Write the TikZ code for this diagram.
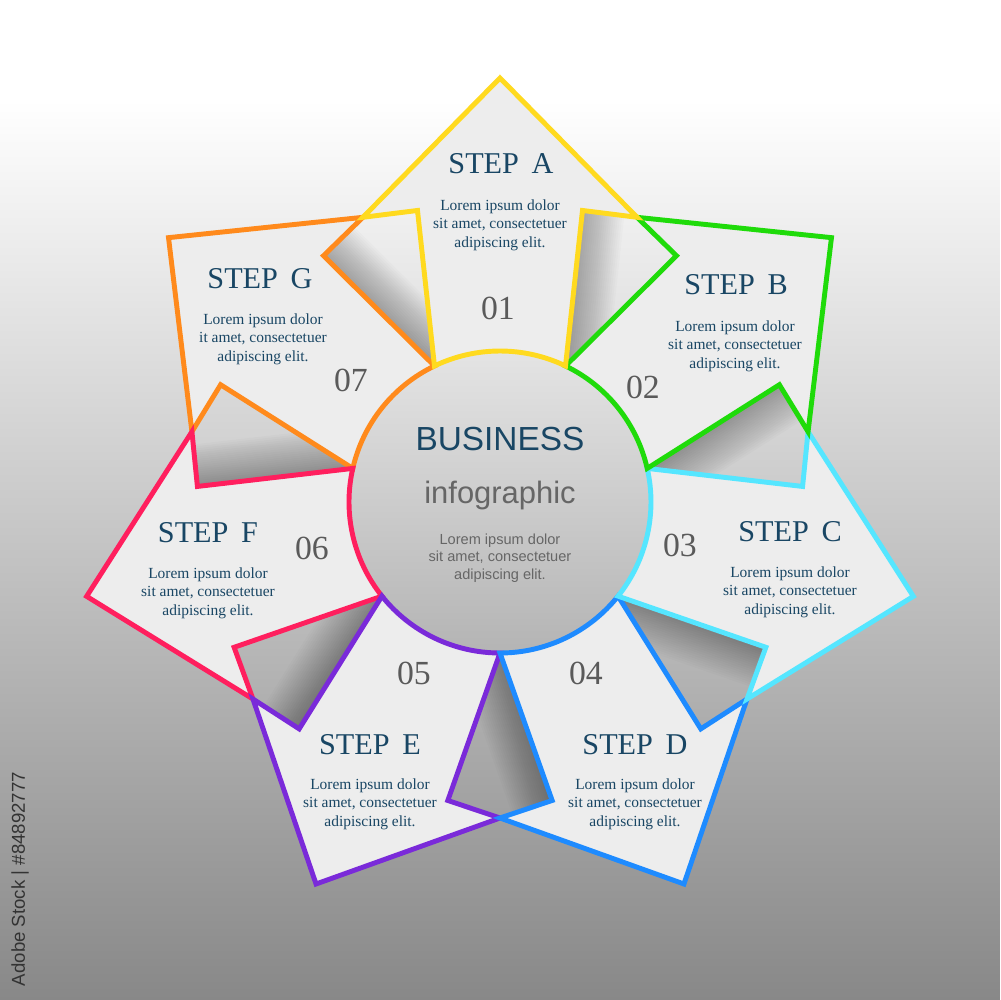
\documentclass[tikz,border=0pt]{standalone}
\usepackage{fontspec}
\setmainfont{Liberation Serif}
\newfontfamily\sansf{Liberation Sans}
\usetikzlibrary{calc}
\definecolor{cA}{HTML}{FFDA1F}
\definecolor{cB}{HTML}{1FDB0A}
\definecolor{cC}{HTML}{55E6FF}
\definecolor{cD}{HTML}{1E8BFF}
\definecolor{cE}{HTML}{7A2AD9}
\definecolor{cF}{HTML}{FF1F5E}
\definecolor{cG}{HTML}{FF8A1C}
\definecolor{ink}{HTML}{194664}
\definecolor{numgray}{HTML}{5A5A5A}
\definecolor{midgray}{HTML}{666666}
\definecolor{panel}{HTML}{EDEDED}
\definecolor{bgbot}{HTML}{888888}
\definecolor{circtop}{HTML}{E4E4E4}
\definecolor{circbot}{HTML}{B4B4B4}
\definecolor{stockgray}{HTML}{333333}
\tikzset{
  steptitle/.style={font=\fontsize{8.6}{10}\selectfont, text=ink, inner sep=0pt},
  stepbody/.style={font=\fontsize{4.4}{5.25}\selectfont, text=ink, align=center, inner sep=0pt},
  stepnum/.style={font=\fontsize{9.6}{11}\selectfont, text=numgray, inner sep=0pt},
  outline/.style={line width=1.4pt, line join=miter},
}
\begin{document}
\begin{tikzpicture}[x=0.1mm,y=0.1mm]
\useasboundingbox (-500,-498) rectangle (500,502);
% background
\fill[white] (-500,400) rectangle (500,502);
\fill[top color=white, bottom color=bgbot] (-500,-498) rectangle (500,402);
% circle
\fill[top color=circtop, bottom color=circbot] (0,0) circle[radius=151];
% panels
\foreach \a in {90,38.5714,-12.8571,-64.2857,-115.7143,-167.1429,141.4286}{
  \pgfmathsetmacro\sp{\a+25.7143}
  \pgfmathsetmacro\sm{\a-25.7143}
  \pgfmathsetmacro\np{\a+15.8}
  \pgfmathsetmacro\nm{\a-15.8}
  \fill[panel] (\a:424) -- (\sp:316) -- (\np:303) -- (\sp:151)
    arc[start angle=\sp, end angle=\sm, radius=151] -- (\nm:303) -- (\sm:316) -- cycle;
}
% gap shadows (soft shadow cast by the counter-clockwise panel)
\foreach \a in {90,38.5714,-12.8571,-64.2857,-115.7143,-167.1429,141.4286}{
  \pgfmathsetmacro\s{\a+25.7143}
  \pgfmathsetmacro\na{\a+15.8}
  \pgfmathsetmacro\nb{\a+35.6286}
  \begin{scope}
    \clip (\s:316) -- (\na:303) -- (\s:151) -- (\nb:303) -- cycle;
    \foreach \w in {1.2,2.4,...,24}
      \draw[black, opacity=0.015, line width=\w pt]
        ($(\nb:303)!-0.3!(\s:151)$) -- ($(\nb:303)!1.3!(\s:151)$);
  \end{scope}
}
% outlines
\foreach \a/\c in {141.4286/cG,-167.1429/cF,-115.7143/cE,-64.2857/cD,-12.8571/cC,38.5714/cB,90/cA}{
  \pgfmathsetmacro\sp{\a+25.7143}
  \pgfmathsetmacro\sm{\a-25.7143}
  \pgfmathsetmacro\np{\a+15.8}
  \pgfmathsetmacro\nm{\a-15.8}
  \draw[outline, draw=\c] (\a:424) -- (\sp:316) -- (\np:303) -- (\sp:151)
    arc[start angle=\sp, end angle=\sm, radius=151] -- (\nm:303) -- (\sm:316) -- cycle;
}
% texts
\node[steptitle] (tA) at (1,338) {STEP\hspace{0.42em}A};
\node[stepbody] (bA) at (0,277) {Lorem ipsum dolor\\sit amet, consectetuer\\adipiscing elit.};
\node[stepnum] (nA) at (-2,194) {01};
\node[steptitle] (tB) at (236,217) {STEP\hspace{0.42em}B};
\node[stepbody] (bB) at (235,156) {Lorem ipsum dolor\\sit amet, consectetuer\\adipiscing elit.};
\node[stepnum] (nB) at (143,115) {02};
\node[steptitle] (tC) at (290,-30) {STEP\hspace{0.42em}C};
\node[stepbody] (bC) at (290,-90) {Lorem ipsum dolor\\sit amet, consectetuer\\adipiscing elit.};
\node[stepnum] (nC) at (180,-43) {03};
\node[steptitle] (tD) at (135,-243) {STEP\hspace{0.42em}D};
\node[stepbody] (bD) at (135,-302) {Lorem ipsum dolor\\sit amet, consectetuer\\adipiscing elit.};
\node[stepnum] (nD) at (86,-171) {04};
\node[steptitle] (tE) at (-130,-243) {STEP\hspace{0.42em}E};
\node[stepbody] (bE) at (-130,-302) {Lorem ipsum dolor\\sit amet, consectetuer\\adipiscing elit.};
\node[stepnum] (nE) at (-86,-171) {05};
\node[steptitle] (tF) at (-292,-31) {STEP\hspace{0.42em}F};
\node[stepbody] (bF) at (-292,-91) {Lorem ipsum dolor\\sit amet, consectetuer\\adipiscing elit.};
\node[stepnum] (nF) at (-188,-46) {06};
\node[steptitle] (tG) at (-240,223) {STEP\hspace{0.42em}G};
\node[stepbody] (bG) at (-237,163) {Lorem ipsum dolor\\it amet, consectetuer\\adipiscing elit.};
\node[stepnum] (nG) at (-149,122) {07};
% center
\node[font=\sansf\fontsize{9.5}{11}\selectfont, text=ink, anchor=base, inner sep=0pt] (bus) at (0,52) {BUSINESS};
\node[font=\sansf\fontsize{8.8}{10}\selectfont, text=midgray, anchor=base, inner sep=0pt] (info) at (0,-1) {infographic};
\node[font=\sansf\fontsize{4.15}{5}\selectfont, text=midgray, align=center, inner sep=0pt] (cbody) at (0,-56) {Lorem ipsum dolor\\sit amet, consectetuer\\adipiscing elit.};
% stock id
\node[rotate=90, font=\sansf\fontsize{5.3}{6}\selectfont, text=stockgray, inner sep=0pt] (stock) at (-480,-377) {Adobe Stock | \#84892777};
\end{tikzpicture}
\end{document}
